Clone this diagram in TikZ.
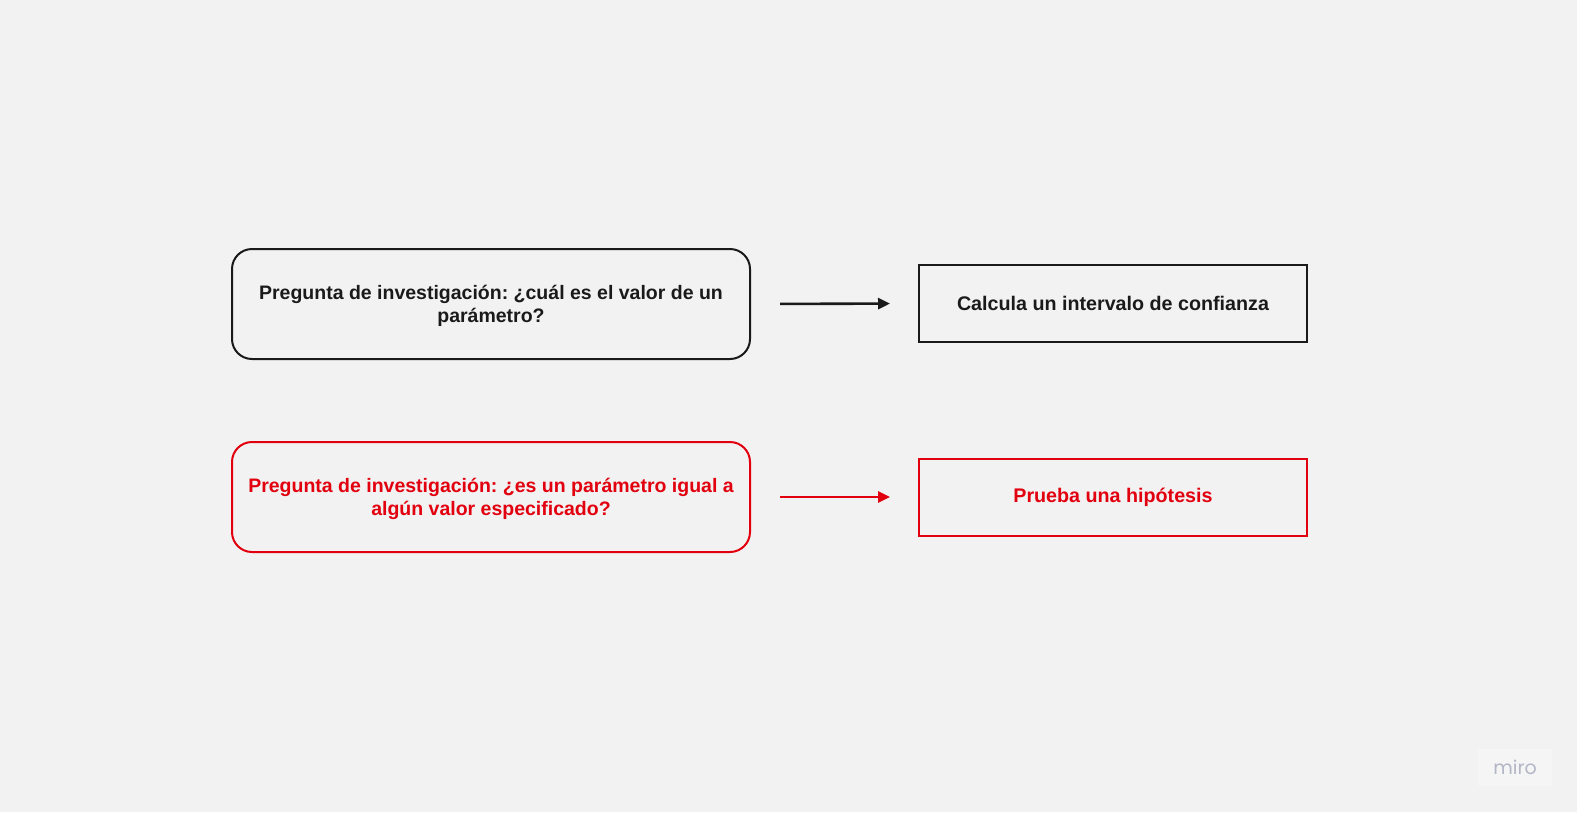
\documentclass[tikz,border=0pt]{standalone}
\usepackage{fontspec}
\setmainfont{Liberation Sans}
\newfontfamily\logofont{Poppins}
\usetikzlibrary{arrows.meta}
\definecolor{bg}{HTML}{F2F2F2}
\definecolor{ink}{HTML}{1A1A1A}
\definecolor{rojo}{HTML}{E2000F}
\definecolor{logo}{HTML}{B3B6C6}
\frenchspacing
\tikzset{
  question/.style={draw, line width=2pt, rounded corners=20pt, minimum width=518pt, minimum height=110pt, align=center, font=\fontsize{19.5}{23}\selectfont\bfseries},
  answer/.style={draw, line width=2pt, minimum width=388pt, minimum height=77pt, align=center, font=\fontsize{19.7}{23}\selectfont\bfseries},
  link/.style={line width=2.6pt, -{Triangle[length=12pt,width=11pt]}, shorten <=29pt, shorten >=28pt}
}
\begin{document}
\begin{tikzpicture}[x=1pt,y=-1pt]
\fill[bg] (0,0) rectangle (1577,812);
\useasboundingbox (0,0) rectangle (1577,812);
\node[question, ink] (q1) at (491,304) {};
\node[ink, align=center, font=\fontsize{19.5}{23}\selectfont\bfseries] (q1t) at (491,306) {Pregunta de investigación: ¿cuál es el valor de un\\parámetro?};
\node[answer, ink] (a1) at (1113,303.5) {Calcula un intervalo de confianza};
\node[question, rojo] (q2) at (491,497) {};
\node[rojo, align=center, font=\fontsize{19.5}{23}\selectfont\bfseries] (q2t) at (491,499) {Pregunta de investigación: ¿es un parámetro igual a\\algún valor especificado?};
\node[answer, rojo] (a2) at (1113,497) {Prueba una hipótesis};
\draw[link, ink] (q1.east) -- (a1.west);
\draw[link, rojo] (q2.east) -- (a2.west);
\node[fill=white, fill opacity=0.3, text opacity=1, minimum width=74pt, minimum height=37pt, text=logo, font=\logofont\fontsize{19}{22}\selectfont] (logo) at (1515,767) {miro};
\end{tikzpicture}
\end{document}
